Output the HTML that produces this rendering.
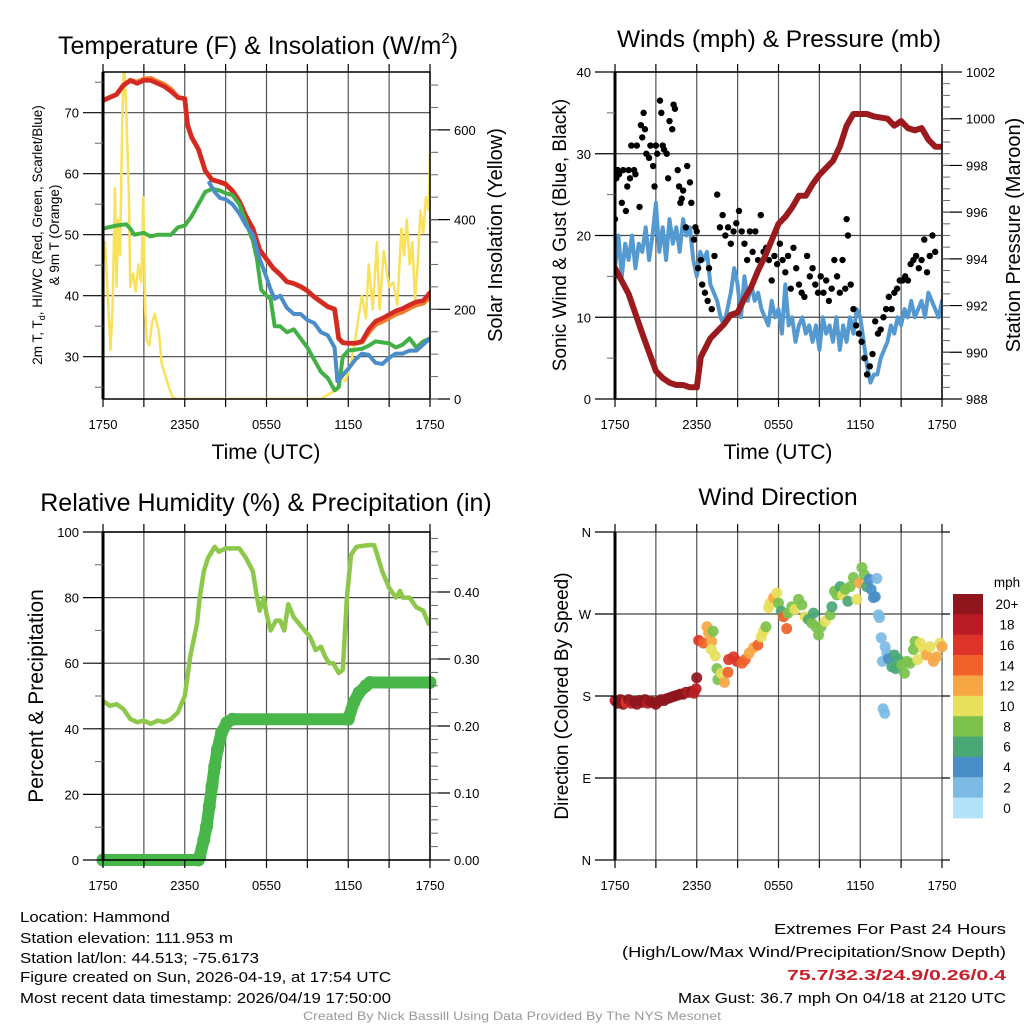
<!DOCTYPE html>
<html><head><meta charset="utf-8"><style>
html,body{margin:0;padding:0;background:#fff;}
svg{display:block;font-family:"Liberation Sans",sans-serif;}
</style></head><body>
<svg id="c" width="1024" height="1024" viewBox="0 0 1024 1024" xmlns="http://www.w3.org/2000/svg"></svg>
<script>
// ---------- DATA ----------
const timeTicks = ["1750","2350","0550","1150","1750"];
const redT = [0,0.5,1,1.5,2,2.5,3,3.5,4,4.5,5,5.5,6,6.2,6.5,7,7.5,8,8.5,9,9.5,10,10.5,11,11.5,12,12.5,13,13.5,14,14.5,15,15.5,16,16.5,17,17.3,17.6,18,18.5,19,19.5,20,20.5,21,21.5,22,22.5,23,23.5,24];
const redV = [72,72.5,73,74.5,75.3,74.8,75.3,75.3,74.8,74.3,73.5,72.5,72.3,68,66,64,60.5,59,58.7,58.3,57.2,55.5,53,51,47.5,46,44.5,43.5,42.3,42,41.5,40.8,39.8,39,38.2,37.8,33,32.3,32.2,32.2,32.5,34.5,35.8,36.3,36.9,37.5,37.9,38.5,39,39.2,40.5];
const orangeV = [72,72.5,73,74.5,75.3,75,75.5,75.6,75.1,74.6,73.8,72.5,72.3,68,66,64,60.5,59,58.7,58.3,57.2,55.5,53,51,47.5,46,44.5,43.5,42.3,42,41.5,40.8,39.8,39,38.2,37.8,33,32.3,32.2,32.2,32.4,34,35.3,35.8,36.4,37,37.4,38,38.5,38.8,39.8];
const greenT = [0,1,1.7,2,2.3,3,3.5,4,5,5.5,6,6.5,7,7.5,8,8.5,9,9.5,10,10.5,11,11.3,11.6,12,12.3,12.6,13,13.5,14,14.5,15,15.5,16,16.5,17,17.3,17.6,18,19,19.5,20,21,21.5,22,22.5,23,23.5,24];
const greenV = [51,51.5,51.7,51,50,50.3,49.7,50,50,51.2,51.5,53,55,57,57.5,57.3,56.8,56.5,55,52,49,46,41,40,39.5,35,35,34,34.5,33,31.5,29.5,27.5,26.5,24.5,25,30,31,31.3,31.8,32.5,32.2,31.5,32,33,31.5,32.5,33];
const blueT = [7.8,8.2,8.6,9,9.5,10,10.5,11,11.5,12,12.3,12.6,13,13.5,14,14.5,15,15.5,16,16.5,17,17.2,17.6,18,18.5,19,19.5,20,20.5,21,21.5,22,22.5,23,23.5,24];
const blueV = [58.5,57,56,55.8,55,53.5,51.5,50,46,43,41,39.5,40,38,37,37,36,35.5,34,33.5,31.5,26,27,28,29.5,30.5,30.3,29,28.8,29.8,30.5,30.5,31,31,32,33];
const solarT = [0,0.15,0.4,0.55,0.7,0.88,1.0,1.1,1.25,1.4,1.54,1.7,1.9,2.0,2.2,2.4,2.6,2.8,2.96,3.1,3.2,3.4,3.6,3.8,3.95,4.1,4.3,4.5,4.7,4.9,5.1,5.4,16,16.8,17.2,17.5,17.8,18.2,18.6,19,19.3,19.5,19.8,20.1,20.3,20.6,21,21.3,21.6,21.9,22.1,22.3,22.5,22.7,22.9,23.1,23.3,23.5,23.7,23.9,24];
const solarV = [300,350,200,110,200,470,250,400,320,600,760,650,450,250,280,240,300,260,450,200,130,120,170,190,170,150,80,60,40,20,5,0,0,15,20,50,40,80,150,230,180,300,200,350,200,330,250,260,210,380,320,400,300,350,220,300,420,370,450,420,550];
const windV = [16,20,15,19,17,20,16,19,18,21,17,20,24,18,21,17,22,19,21,18,22,20,21,17,15,18,17,18,14,13,12,10,9,11,13,16,14,10,15,12,14,12,13,11,10,9,12,10,11,8,14,9,10,7,9,10,8,9,7,9,6,10,8,9,7,10,6,9,7,10,8,11,10,7,4,2,3,3,5,6,7,9,8,10,9,11,10,12,10,11,12,10,13,12,11,10,12];
const gustT = [0,0.1,0.2,0.3,0.5,0.6,0.8,0.9,1.0,1.1,1.2,1.4,1.5,1.6,1.8,1.9,2.0,2.1,2.2,2.3,2.5,2.6,2.8,2.9,3.0,3.1,3.3,3.4,3.5,3.6,3.8,3.9,4.0,4.2,4.3,4.4,4.6,4.7,4.8,4.9,5.0,5.2,5.3,5.5,5.6,5.8,5.9,6.0,6.1,6.3,6.4,6.6,6.8,6.9,7.1,7.3,7.5,7.7,7.9,8.1,8.3,8.5,8.7,8.9,9.1,9.3,9.5,9.7,9.9,10.1,10.3,10.5,10.7,10.9,11.1,11.3,11.5,11.7,11.9,12.1,12.3,12.5,12.7,12.9,13.1,13.3,13.5,13.7,13.9,14.1,14.3,14.5,14.7,14.9,15.1,15.3,15.5,15.7,15.9,16.1,16.3,16.5,16.7,16.9,17.0,17.1,17.3,17.5,17.7,17.9,18.1,18.3,18.5,18.7,18.9,19.1,19.3,19.5,19.7,19.9,20.1,20.3,20.5,20.7,20.9,21.1,21.3,21.5,21.7,21.9,22.1,22.3,22.5,22.7,22.9,23.1,23.3,23.5,23.7,23.9];
const gustV = [22,27,28,27.5,24,28,23,26,28,27,31,28,27.5,31,23.5,33.5,32,35,33,30,29.5,31,28.5,26,31,30,36.5,35,31,30.5,30,27,34,33,36,35.5,28,26,24,24.5,25.5,21,28.5,26.5,24,19.5,21,20.5,16,17,14,13,12,16,11,17.5,25,21,22.5,20,21,19,20.5,21.5,23,20.5,19,17,20.5,18,20.5,17,22.5,18,18.5,17,14.5,17.5,16.5,19,17,15.5,17.5,13.5,18.5,16,14,13,12.5,17.5,15,16,14,13,15,13,14.5,12,13.5,17,15,13,17,13.5,22,20,14,11,9,8,7,5,3,4,5.5,9.5,8,8.5,10,11,12.5,11,13,13.5,14.5,14.5,15,14.5,16.5,17,17.5,16,17,19.5,15.5,17.5,20,18];
const presT = [0,1,2,3,3.5,4,4.5,5,5.5,6,6.3,7,8,8.5,9,9.5,10,10.5,11,11.5,12,12.5,13,13.5,14,14.5,15,15.5,16,16.5,17,17.5,18,18.5,19,20,20.5,21,21.5,22,22.5,23,23.5,24];
const presV = [993.6,992.5,990.8,989.2,988.9,988.7,988.6,988.6,988.5,988.5,989.8,990.6,991.2,991.6,991.7,992.3,992.8,993.5,994.1,994.8,995.5,995.8,996.2,996.7,996.7,997.2,997.6,997.9,998.2,998.8,999.7,1000.2,1000.2,1000.2,1000.1,1000,999.7,999.9,999.6,999.5,999.6,999.1,998.8,998.8];
const rhT = [0,0.5,1,1.5,2,2.5,3,3.5,4,4.5,5,5.5,6,6.4,6.9,7.1,7.4,7.7,8.2,8.5,9,10,10.5,11,11.3,11.5,11.8,12,12.3,12.7,13,13.3,13.6,14,14.4,14.8,15.2,15.6,16,16.3,16.6,16.9,17.3,17.6,17.9,18.2,18.6,19.5,19.9,20.2,20.5,21,21.5,21.8,22,22.5,23,23.5,23.9];
const rhV = [48.5,47,47.5,46,43,42,42.5,41.5,42.5,42,43,45,50,62,72,80,88,92,95.5,94,95,95,92,88,80,76,80,75,70,73,73,70,78,74,72,70,68,64,65,62,60,60,57,58,80,93,95.5,96,96,92,88,83,80,82,80,80,77,76,72];
const prT = [0,7.0,7.1,7.4,7.6,7.8,8.0,8.2,8.4,8.7,9.1,9.5,18.0,18.4,18.8,19.3,19.6,24];
const prV = [0,0,0.005,0.03,0.05,0.08,0.11,0.14,0.165,0.19,0.205,0.21,0.21,0.235,0.25,0.26,0.265,0.265];
const dirT = [0,0.2,0.4,0.6,0.8,1,1.2,1.4,1.6,1.8,2,2.2,2.4,2.6,2.8,3,3.2,3.4,3.6,3.8,4,4.2,4.4,4.6,4.8,5,5.2,5.4,5.6,5.8,5.95,6.0,6.14,6.5,6.75,6.87,7.1,7.07,7.2,7.36,7.48,7.55,7.8,8.04,8.29,8.34,8.7,8.95,9.32,9.56,9.85,10.17,10.49,10.73,10.9,11.08,11.27,11.39,11.64,11.88,12.0,12.2,12.37,12.6,12.7,12.98,13.2,13.47,13.72,13.96,14.2,14.45,14.57,14.74,14.94,15.13,15.43,15.8,15.92,16.11,16.28,16.53,16.72,16.9,17.09,17.26,17.5,17.75,17.95,18.12,18.31,18.48,18.66,18.8,18.97,19.1,19.22,19.34,19.41,19.54,19.63,19.68,19.8,19.83,19.95,20.07,20.32,20.51,20.6,20.8,21.05,21.25,21.42,21.66,21.9,22.03,22.22,22.4,22.64,22.88,23.13,23.37,23.61,23.86,24.0];
const dirV = [175,172,176,171,173,176,172,174,171,175,173,176,172,174,173,171,174,176,175,177,178,179,180,181,182,182,184,184,185,183,188,200,241,238,256,249,240,231,251,224,210,198,205,195,206,220,223,218,216,220,227,233,236,245,251,256,277,282,288,293,282,273,267,254,271,278,275,286,280,267,264,260,271,256,247,256,262,269,278,295,291,300,291,297,284,300,310,286,304,321,313,300,308,297,288,289,309,269,266,244,218,166,161,234,227,221,212,225,210,220,214,205,218,216,231,240,220,238,231,225,234,218,223,238,234];
const dirS = [18,20,22,20,16,22,18,22,20,22,20,22,18,22,20,22,20,22,22,22,20,22,20,22,20,22,20,18,20,18,18,20,16,14,12,12,12,10,8,10,8,8,10,12,14,16,16,16,14,14,12,12,14,10,10,8,10,10,12,10,8,6,14,14,8,8,10,8,8,10,6,8,6,8,8,8,10,8,6,8,8,6,10,8,6,8,8,10,12,8,8,6,4,4,4,4,2,2,2,2,2,2,2,2,2,4,6,6,6,6,8,8,8,8,8,8,10,10,10,12,10,12,12,10,12];
const barLabels = ["20+","18","16","14","12","10","8","6","4","2","0"];
const tempTicks = [30,40,50,60,70];
const solarTicks = [0,200,400,600];
const windTicks = [0,10,20,30,40];
const presTicks = [988,990,992,994,996,998,1000,1002];
const rhTicks = [0,20,40,60,80,100];
const prTicks = ["0.00","0.10","0.20","0.30","0.40"];
const dirTicks = ["N","E","S","W","N"];

// ---------- DRAWING ----------
const NS="http://www.w3.org/2000/svg";
const svg=document.getElementById('c');
function mk(tag,at,parent){const e=document.createElementNS(NS,tag);for(const k in at)e.setAttribute(k,at[k]);(parent||svg).appendChild(e);return e;}
function txt(s,x,y,size,anchor,extra,parent){const e=mk('text',Object.assign({x:x,y:y,'font-size':size,'text-anchor':anchor||'middle',fill:'#000'},extra||{}),parent);e.textContent=s;return e;}
const SPEEDC=["#b3e3f8","#7dbbe5","#4a8ec7","#4aa776","#7cc24c","#e7e05b","#f6a744","#ef6229","#dc3428","#ba1c25","#8f161c"];
function spColor(s){return SPEEDC[Math.min(10,Math.floor(s/2))];}

function panel(name,x0,x1,y0,y1){
  const g=mk('g',{});
  
  
  return {g,x0,x1,y0,y1,x:h=>x0+h/24*(x1-x0)};
}
function grid(P,ys){
  for(let i=0;i<=8;i++){const x=P.x(i*3);const l=mk('line',{x1:x,x2:x,y1:P.y0,y2:P.y1,stroke:'#555','stroke-width':1.2},P.g);}
  ys.forEach(y=>{const l=mk('line',{x1:P.x0,x2:P.x1,y1:y,y2:y,stroke:'#444','stroke-width':1.2},P.g);});
}
function frame(P){
  const r=mk('rect',{x:P.x0,y:P.y0,width:P.x1-P.x0,height:P.y1-P.y0,fill:'none',stroke:'#000','stroke-width':1.5},P.g);
  
  mk('line',{x1:P.x0,x2:P.x0,y1:P.y0,y2:P.y1,stroke:'#000','stroke-width':3},P.g);
}
function xAxis(P,ly){
  const g=mk('g',{},P.g);
  for(let i=0;i<=8;i++){const x=P.x(i*3);mk('line',{x1:x,x2:x,y1:P.y1,y2:P.y1+8,stroke:'#000','stroke-width':1.2},g);mk('line',{x1:x,x2:x,y1:P.y0,y2:P.y0-8,stroke:'#000','stroke-width':1.2},g);}
  timeTicks.forEach((t,i)=>{const e=txt(t,P.x(i*6),ly,13,'middle',{},g);});
}
function yTicks(P,vals,fy,side,labels,minorVals){
  const g=mk('g',{},P.g);
  vals.forEach((v,i)=>{const y=fy(v);
    if(side==='left'){mk('line',{x1:P.x0-20,x2:P.x0,y1:y,y2:y,stroke:'#000','stroke-width':1.2},g);const e=txt(labels[i],P.x0-24,y+5,13,'end',{},g);}
    else {mk('line',{x1:P.x1,x2:P.x1+20,y1:y,y2:y,stroke:'#000','stroke-width':1.2},g);const e=txt(labels[i],P.x1+24,y+5,13,'start',{},g);}
  });
  (minorVals||[]).forEach(v=>{const y=fy(v);if(y<P.y0-0.5||y>P.y1+0.5)return;
    if(side==='left')mk('line',{x1:P.x0-8,x2:P.x0,y1:y,y2:y,stroke:'#666','stroke-width':1},g);
    else mk('line',{x1:P.x1,x2:P.x1+8,y1:y,y2:y,stroke:'#666','stroke-width':1},g);});
}
function poly(P,ts,vs,fy,color,w,name){
  const pts=ts.map((t,i)=>P.x(t).toFixed(1)+','+fy(vs[i]).toFixed(1)).join(' ');
  const l=mk('polyline',{points:pts,fill:'none',stroke:color,'stroke-width':w,'stroke-linejoin':'round','stroke-linecap':'round'},P.g);
  return l;
}
function clip(P,id){const cp=mk('clipPath',{id:id});mk('rect',{x:P.x0,y:P.y0,width:P.x1-P.x0,height:P.y1-P.y0},cp);}
function rot(s,x,y,size,name){const e=txt(s,0,0,size,'middle',{transform:`translate(${x},${y}) rotate(-90)`});return e;}
function range(a,b,s){const r=[];for(let v=a;v<=b+1e-9;v+=s)r.push(+v.toFixed(4));return r;}

// Panel 1: temperature
{
  const P=panel('temperature-panel',103,430,72,399);
  const fy=v=>356.7-(v-30)*6.1;
  const fs=v=>399-v*0.4485;
  grid(P,tempTicks.map(fy));
  clip(P,'cp1');
  const d=mk('g',{'clip-path':'url(#cp1)'},P.g);
  const Q=Object.assign({},P,{g:d});
  poly(Q,solarT,solarV,fs,'#f9e15c',2.5,'solar-insolation-line');
  poly(Q,redT,orangeV,fy,'#f07d2b',5,'9m-temperature-line');
  poly(Q,redT,redV,fy,'#d42a26',4.5,'2m-temperature-line');
  poly(Q,greenT,greenV,fy,'#43b046',4,'dewpoint-line');
  poly(Q,blueT,blueV,fy,'#4a8dca',4,'wind-chill-line');
  frame(P);xAxis(P,429);
  yTicks(P,tempTicks,fy,'left',tempTicks.map(String),range(25,75,10));
  yTicks(P,solarTicks,fs,'right',solarTicks.map(String),range(0,700,50));
  const t=txt('Temperature (F) & Insolation (W/m',258,54,25,'middle');
  const ts=mk('tspan',{'font-size':15,dy:-11});ts.textContent='2';t.appendChild(ts);const ts2=mk('tspan',{dy:11});ts2.textContent=')';t.appendChild(ts2);
  const xl=txt('Time (UTC)',266,459,21,'middle');
  const yl=txt('',0,0,13.5,'middle',{transform:'translate(42,235) rotate(-90)'});
  yl.innerHTML='2m T, T<tspan font-size="9" dy="3">d</tspan><tspan dy="-3">, HI/WC (Red, Green, Scarlet/Blue)</tspan>';
  rot('& 9m T (Orange)',59,235,13.5,'y-axis-title-line2');
  rot('Solar Insolation (Yellow)',502,235,20,'y2-axis-title');
}
// Panel 2: winds
{
  const P=panel('winds-panel',615,942,72,399);
  const fy=v=>399-v*8.175;
  const fp=v=>399-(v-988)*23.357;
  grid(P,windTicks.map(fy));
  clip(P,'cp2');
  const d=mk('g',{'clip-path':'url(#cp2)'},P.g);
  const Q=Object.assign({},P,{g:d});
  poly(Q,windV.map((v,i)=>i*24/(windV.length-1)),windV,fy,'#5599d1',4,'sonic-wind-line');
  gustT.forEach((t,i)=>{const c=mk('circle',{cx:P.x(t),cy:fy(gustV[i]),r:3.2,fill:'#000'},d);});
  poly(Q,presT,presV,fp,'#9b1a1d',6,'station-pressure-line');
  frame(P);xAxis(P,429);
  yTicks(P,windTicks,fy,'left',windTicks.map(String),range(5,35,10));
  yTicks(P,presTicks,fp,'right',presTicks.map(String),range(988.5,1001.5,0.5));
  const t=txt('Winds (mph) & Pressure (mb)',779,47,24.5);
  const xl=txt('Time (UTC)',778,459,21);
  rot('Sonic Wind & Gust (Blue, Black)',566,235,19,'y-axis-title');
  rot('Station Pressure (Maroon)',1020,235,20,'y2-axis-title');
}
// Panel 3: RH & precip
{
  const P=panel('humidity-precip-panel',103,430,532,860);
  const fy=v=>860-v*3.28;
  const fr=v=>860-v/0.4*268;
  grid(P,rhTicks.map(fy));
  clip(P,'cp3');
  const d=mk('g',{},P.g);
  const Q=Object.assign({},P,{g:d});
  poly(Q,prT,prV,fr,'#48b649',12,'precipitation-line');
  prT.forEach((t,i)=>{const c=mk('circle',{cx:P.x(t),cy:fr(prV[i]),r:6.5,fill:'#48b649'},d);});
  const Qc=Object.assign({},P,{g:mk('g',{'clip-path':'url(#cp3)'},P.g)});
  poly(Qc,rhT,rhV,fy,'#8dc84b',4.5,'relative-humidity-line');
  frame(P);xAxis(P,890);
  yTicks(P,rhTicks,fy,'left',rhTicks.map(String),range(10,90,20));
  yTicks(P,[0,0.1,0.2,0.3,0.4],fr,'right',prTicks,range(0.02,0.48,0.02));
  const t=txt('Relative Humidity (%) & Precipitation (in)',266,511,25);
  rot('Percent & Precipitation',43,696,21,'y-axis-title');
}
// Panel 4: wind direction
{
  const P=panel('wind-direction-panel',615,942,532,860);
  const fy=v=>860-v/360*328;
  grid(P,[0,90,180,270,360].map(fy));
  const d=mk('g',{},P.g);
  dirT.forEach((t,i)=>{const c=mk('circle',{cx:P.x(t),cy:fy(dirV[i]),r:5.5,fill:spColor(dirS[i]),'fill-opacity':0.92},d);});
  mk('line',{x1:P.x0,x2:P.x0,y1:P.y0,y2:P.y1,stroke:'#000','stroke-width':3},P.g);
  xAxis(P,890);
  yTicks(P,[0,90,180,270,360],fy,'left',dirTicks,[]);
  [0,90,180,270,360].forEach(v=>mk('line',{x1:P.x1,x2:P.x1+8,y1:fy(v),y2:fy(v),stroke:'#000','stroke-width':1.2},P.g));
  const t=txt('Wind Direction',778,505,24.5);
  rot('Direction (Colored By Speed)',568,696,19,'y-axis-title');
  const lg=mk('g',{});
  const bh=(818-594)/11;
  barLabels.forEach((lab,i)=>{const r=mk('rect',{x:953,y:594+i*bh,width:30,height:bh+0.3,fill:SPEEDC[10-i]},lg);
    const e=txt(lab,1007,594+i*bh+bh/2+5,13.5,'middle',{},lg);});
  const m=txt('mph',1007,587,13.5,'middle',{},lg);
}
// Footer text
function ft(s,x,y,len,anchor,extra,name){const e=txt(s,x,y,15,anchor,Object.assign({textLength:len,lengthAdjust:'spacingAndGlyphs'},extra||{}));return e;}
ft('Location: Hammond',20,922,150,'start',{},'location-text');
ft('Station elevation: 111.953 m',20,943,213,'start',{},'elevation-text');
ft('Station lat/lon: 44.513; -75.6173',20,963,239,'start',{},'latlon-text');
ft('Figure created on Sun, 2026-04-19, at 17:54 UTC',20,982,371,'start',{},'created-text');
ft('Most recent data timestamp: 2026/04/19 17:50:00',20,1003,371,'start',{},'timestamp-text');
ft('Extremes For Past 24 Hours',1006,934,232,'end',{},'extremes-title');
ft('(High/Low/Max Wind/Precipitation/Snow Depth)',1006,957,384,'end',{},'extremes-legend');
ft('75.7/32.3/24.9/0.26/0.4',1006,980,219,'end',{fill:'#c8202a','font-weight':'bold'},'extremes-values');
ft('Max Gust: 36.7 mph On 04/18 at 2120 UTC',1006,1003,328,'end',{},'max-gust-text');
const cr=txt('Created By Nick Bassill Using Data Provided By The NYS Mesonet',512,1020,12,'middle',{fill:'#999',textLength:418,lengthAdjust:'spacingAndGlyphs'});

</script>
</body></html>
